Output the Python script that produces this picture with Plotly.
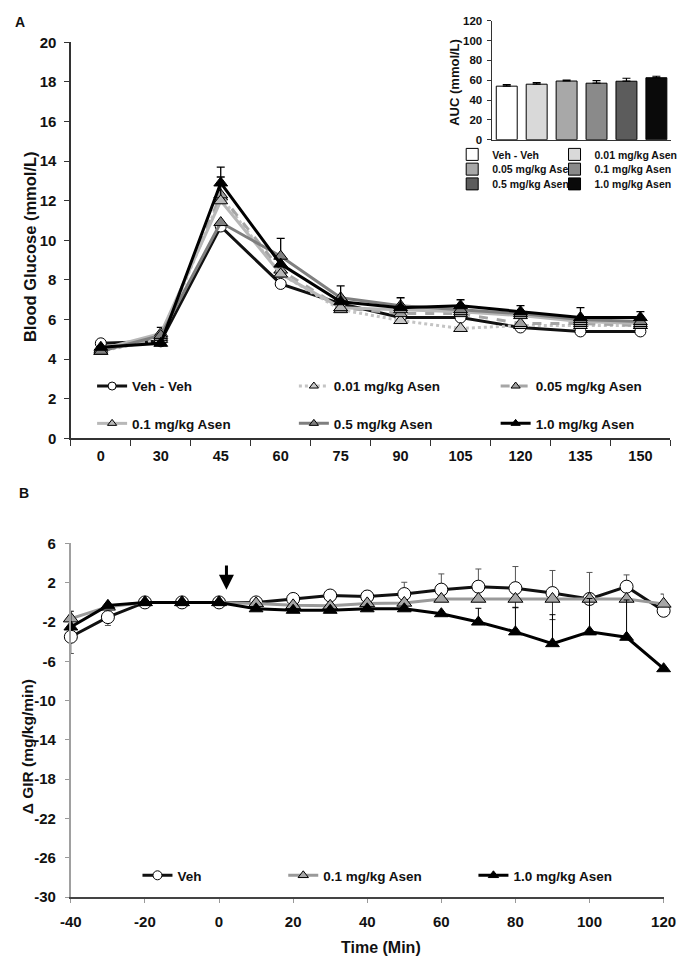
import plotly.graph_objects as go

# ---------------- Panel A data ----------------
glucose_times = ['0', '30', '45', '60', '75', '90', '105', '120', '135', '150']
glucose_names = ['Veh - Veh', '0.01 mg/kg Asen', '0.05 mg/kg Asen',
                 '0.1 mg/kg Asen', '0.5 mg/kg Asen', '1.0 mg/kg Asen']
veh_veh = [4.8, 4.9, 10.7, 7.8, 6.8, 6.1, 6.1, 5.6, 5.4, 5.4]
asen_001 = [4.4, 5.0, 12.2, 8.3, 6.5, 5.95, 5.55, 5.7, 5.7, 5.7]
asen_005 = [4.4, 5.1, 12.3, 8.5, 6.6, 6.3, 6.3, 5.8, 5.8, 5.7]
asen_01 = [4.5, 5.3, 12.0, 8.3, 6.6, 6.5, 6.4, 6.2, 5.9, 5.8]
asen_05 = [4.4, 5.2, 10.9, 9.2, 7.1, 6.7, 6.5, 6.3, 6.0, 5.9]
asen_10 = [4.6, 4.8, 12.9, 8.8, 6.9, 6.6, 6.7, 6.4, 6.1, 6.1]
err_01 = [0, 0.3, 1.2, 0, 0, 0, 0, 0, 0, 0]
err_05 = [0, 0, 0, 0.9, 0, 0, 0, 0, 0, 0]
err_10 = [0, 0, 0.8, 0, 0.8, 0.5, 0.3, 0.3, 0.5, 0.3]

# inset AUC
auc_values = [54, 56, 59.2, 57, 59, 62.5]
auc_errors = [1.5, 1.5, 1.0, 2.5, 3.0, 1.5]

# ---------------- Panel B data ----------------
gir_time = [-40, -30, -20, -10, 0, 10, 20, 30, 40, 50, 60, 70, 80, 90, 100, 110, 120]
gir_names = ['Veh', '0.1 mg/kg Asen', '1.0 mg/kg Asen']
gir_veh = [-3.5, -1.5, 0, 0, 0, 0.0, 0.35, 0.7, 0.6, 0.85, 1.3, 1.6, 1.45, 0.95, 0.35, 1.6, -0.85]
gir_asen_01 = [-1.65, -0.45, 0, 0, 0, -0.1, -0.3, -0.35, -0.1, -0.05, 0.35, 0.35, 0.35, 0.35, 0.35, 0.35, -0.15]
gir_asen_10 = [-2.5, -0.3, 0, 0, 0, -0.65, -0.8, -0.8, -0.65, -0.65, -1.15, -2.0, -3.0, -4.2, -3.0, -3.55, -6.75]
gir_veh_up = [0, 0, 0, 0, 0, 0, 0.3, 0.5, 0.6, 1.2, 1.6, 1.8, 2.2, 2.3, 2.7, 1.2, 0]
gir_veh_dn = [1.7, 0.85, 0, 0, 0, 0, 0, 0, 0, 0, 0, 0, 0, 0, 0, 0, 0]
gir_01_up = [0, 0, 0, 0, 0, 0, 0, 0, 0, 0, 0, 0, 0, 0, 0, 0, 1.0]
gir_01_dn = [0, 0, 0, 0, 0, 0, 0, 0, 0, 0, 0, 0, 0.9, 2.1, 0, 0, 0]
gir_10_up = [1.6, 0, 0, 0, 0, 0, 0, 0, 0, 0, 0, 1.4, 2.5, 2.95, 3.4, 3.8, 0]

# tick labels of panel B (ASCII hyphen as in the original)
gir_xtick_vals = [-40, -20, 0, 20, 40, 60, 80, 100, 120]
gir_xtick_text = ['-40', '-20', '0', '20', '40', '60', '80', '100', '120']
gir_ytick_vals = [6, 2, -2, -6, -10, -14, -18, -22, -26, -30]
gir_ytick_text = ['6', '2', '-2', '-6', '-10', '-14', '-18', '-22', '-26', '-30']

FONT = "Liberation Sans, Arial, sans-serif"
INK = '#111111'

W, H = 694, 969


def px(x):
    return x / W


def py(y):
    return (H - y) / H


def f(size):
    return dict(family=FONT, size=size, color=INK, weight='bold')


fig = go.Figure()
layout_legends = {}
leg_common = dict(orientation='h', bgcolor='rgba(0,0,0,0)', borderwidth=0,
                  xanchor='left', yanchor='middle', itemsizing='trace',
                  itemclick=False, itemdoubleclick=False)
leg_counter = [0]


def new_legend(x_px, y_px, size):
    leg_counter[0] += 1
    key = 'legend' if leg_counter[0] == 1 else 'legend%d' % leg_counter[0]
    layout_legends[key] = dict(x=px(x_px), y=py(y_px), font=f(size), **leg_common)
    return key


# ---- Panel A lines ----
styles = [
    dict(color='#111111', dash='solid', mcolor='white', sym='circle', msize=11),
    dict(color='#c4c4c4', dash='dot', mcolor='#c8c8c8', sym='triangle-up', msize=12),
    dict(color='#a6a6a6', dash='dash', mcolor='#a0a0a0', sym='triangle-up', msize=12),
    dict(color='#b8b8b8', dash='solid', mcolor='#b8b8b8', sym='triangle-up', msize=12),
    dict(color='#7f7f7f', dash='solid', mcolor='#808080', sym='triangle-up', msize=12),
    dict(color='#000000', dash='solid', mcolor='#000000', sym='triangle-up', msize=12),
]
series = [veh_veh, asen_001, asen_005, asen_01, asen_05, asen_10]
errs = [None, None, None, err_01, err_05, err_10]
top_leg_pos = [(84, 384), (293, 384), (502, 384), (84, 422), (293, 422), (502, 422)]
for name, ys, st, er in zip(glucose_names, series, styles, errs):
    kw = {}
    if er is not None:
        kw['error_y'] = dict(type='data', symmetric=False, array=er,
                             arrayminus=[0] * len(er), color='#000000',
                             thickness=1.3, width=4)
    fig.add_trace(go.Scatter(
        x=glucose_times, y=ys, name=name, mode='lines+markers',
        line=dict(color=st['color'], width=3, dash=st['dash']),
        marker=dict(symbol=st['sym'], size=st['msize'], color=st['mcolor'],
                    line=dict(color='#000000', width=1)),
        xaxis='x', yaxis='y', showlegend=False, cliponaxis=False, **kw))
# legend keys for panel A (no data, legend only)
for name, st, pos in zip(glucose_names, styles, top_leg_pos):
    fig.add_trace(go.Scatter(
        x=[None], y=[None], name=name, mode='lines+markers',
        line=dict(color=st['color'], width=3, dash=st['dash']),
        marker=dict(symbol=st['sym'], size=8, color=st['mcolor'],
                    line=dict(color='#000000', width=1)),
        xaxis='x', yaxis='y', legend=new_legend(pos[0], pos[1], 13.5)))

# ---- Inset bars ----
bar_colors = ['#ffffff', '#d9d9d9', '#a8a8a8', '#8a8a8a', '#5c5c5c', '#0a0a0a']
inset_leg_pos = [(457, 148), (563, 148), (457, 163), (563, 163), (457, 178), (563, 178)]
for name, v, e, c, pos in zip(glucose_names, auc_values, auc_errors, bar_colors, inset_leg_pos):
    fig.add_trace(go.Bar(
        x=[name], y=[v], name=name, width=0.7,
        marker=dict(color=c, line=dict(color='#000000', width=1)),
        error_y=dict(type='data', symmetric=False, array=[e], arrayminus=[0],
                     color='#000000', thickness=1.2, width=4),
        xaxis='x2', yaxis='y2', legend=new_legend(pos[0], pos[1], 10.5)))

# ---- Panel B lines ----
gir_series = [gir_veh, gir_asen_01, gir_asen_10]
gir_up = [gir_veh_up, gir_01_up, gir_10_up]
gir_dn = [gir_veh_dn, gir_01_dn, [0] * len(gir_time)]
gir_styles = [
    dict(color='#111111', mcolor='white', sym='circle', msize=13, ecolor='#555555'),
    dict(color='#9a9a9a', mcolor='#a6a6a6', sym='triangle-up', msize=13, ecolor='#333333'),
    dict(color='#000000', mcolor='#000000', sym='triangle-up', msize=12, ecolor='#000000'),
]
bot_leg_pos = [(131, 882), (282, 882), (479, 882)]
for name, ys, up, dn, st in zip(gir_names, gir_series, gir_up, gir_dn, gir_styles):
    fig.add_trace(go.Scatter(
        x=gir_time, y=ys, name=name, mode='lines+markers',
        line=dict(color=st['color'], width=3),
        marker=dict(symbol=st['sym'], size=st['msize'], color=st['mcolor'],
                    line=dict(color='#000000', width=1)),
        error_y=dict(type='data', symmetric=False, array=up, arrayminus=dn,
                     color=st['ecolor'], thickness=1, width=3),
        xaxis='x3', yaxis='y3', showlegend=False, cliponaxis=False))
for name, st, pos in zip(gir_names, gir_styles, bot_leg_pos):
    fig.add_trace(go.Scatter(
        x=[None], y=[None], name=name, mode='lines+markers',
        line=dict(color=st['color'], width=3),
        marker=dict(symbol=st['sym'], size=9, color=st['mcolor'],
                    line=dict(color='#000000', width=1)),
        xaxis='x3', yaxis='y3', legend=new_legend(pos[0], pos[1], 13.5)))

fig.update_layout(
    width=W, height=H,
    margin=dict(l=0, r=0, t=0, b=0),
    paper_bgcolor='white', plot_bgcolor='rgba(0,0,0,0)',
    barmode='overlay',
    showlegend=True,
    hovermode=False,
    xaxis=dict(domain=[px(62), px(683)], anchor='y', type='category',
               categoryorder='array', categoryarray=glucose_times,
               range=[-0.5, 9.5], tickson='boundaries', ticks='outside',
               ticklen=6, tickcolor='#333333', showline=True, linecolor='#333333',
               linewidth=1.5, showgrid=False, zeroline=False,
               ticklabelstandoff=4, tickfont=f(14.5)),
    yaxis=dict(domain=[py(437), py(34)], anchor='x', range=[0, 20], dtick=2,
               ticks='outside', ticklen=5, tickcolor='#333333', showline=True,
               linecolor='#333333', linewidth=1.5, showgrid=False, zeroline=False,
               ticklabelstandoff=5, tickfont=f(15)),
    xaxis2=dict(domain=[px(498), px(684)], anchor='y2', type='category',
                range=[-0.5, 5.5], showticklabels=False, ticks='',
                showline=True, linecolor='#333333', linewidth=1.2,
                showgrid=False, zeroline=False),
    yaxis2=dict(domain=[py(133), py(12)], anchor='x2', range=[0, 120], dtick=20,
                ticks='outside', ticklen=4, tickcolor='#333333', showline=True,
                linecolor='#333333', linewidth=1.2, showgrid=False, zeroline=False,
                ticklabelstandoff=2, tickfont=f(11.5)),
    xaxis3=dict(domain=[px(62), px(676)], anchor='y3', range=[-40, 120],
                tickmode='array', tickvals=gir_xtick_vals, ticktext=gir_xtick_text,
                ticks='outside', ticklen=4, tickcolor='#999999', showline=True,
                linecolor='#444444', linewidth=1.5, showgrid=False, zeroline=False,
                ticklabelstandoff=6, tickfont=f(15)),
    yaxis3=dict(domain=[py(904), py(544)], anchor='x3', range=[-30, 6],
                tickmode='array', tickvals=gir_ytick_vals, ticktext=gir_ytick_text,
                ticks='outside', ticklen=4, tickcolor='#999999',
                showline=True, linecolor='#a0a0a0', linewidth=2, showgrid=False,
                zeroline=False, ticklabelstandoff=6, tickfont=f(15)),
    annotations=[
        dict(text='A', x=px(9), y=py(13), xref='paper', yref='paper',
             showarrow=False, xanchor='center', yanchor='middle', font=f(14)),
        dict(text='B', x=px(13), y=py(493), xref='paper', yref='paper',
             showarrow=False, xanchor='center', yanchor='middle', font=f(14)),
        dict(text='Blood Glucose (mmol/L)', x=px(19), y=py(242), xref='paper',
             yref='paper', showarrow=False, textangle=-90, xanchor='center',
             yanchor='middle', font=f(16.5)),
        dict(text='AUC (mmol/L)', x=px(460), y=py(75), xref='paper',
             yref='paper', showarrow=False, textangle=-90, xanchor='center',
             yanchor='middle', font=f(13)),
        dict(text='\u0394 GIR (mg/kg/min)', x=px(17), y=py(751), xref='paper',
             yref='paper', showarrow=False, textangle=-90, xanchor='center',
             yanchor='middle', font=f(15.5)),
        dict(text='Time (Min)', x=px(383), y=py(955), xref='paper',
             yref='paper', showarrow=False, xanchor='center', yanchor='middle',
             font=f(16)),
        dict(text='', x=2, y=1.3, ax=2, ay=3.9, xref='x3', yref='y3',
             axref='x3', ayref='y3', showarrow=True, arrowhead=2, arrowsize=1,
             arrowwidth=3, arrowcolor='#000000'),
    ],
    **layout_legends,
)

fig.write_html("out.html",
               config={'displayModeBar': False, 'staticPlot': True},
               post_script="document.body.style.margin='0';"
                           "document.documentElement.style.overflow='hidden';")
